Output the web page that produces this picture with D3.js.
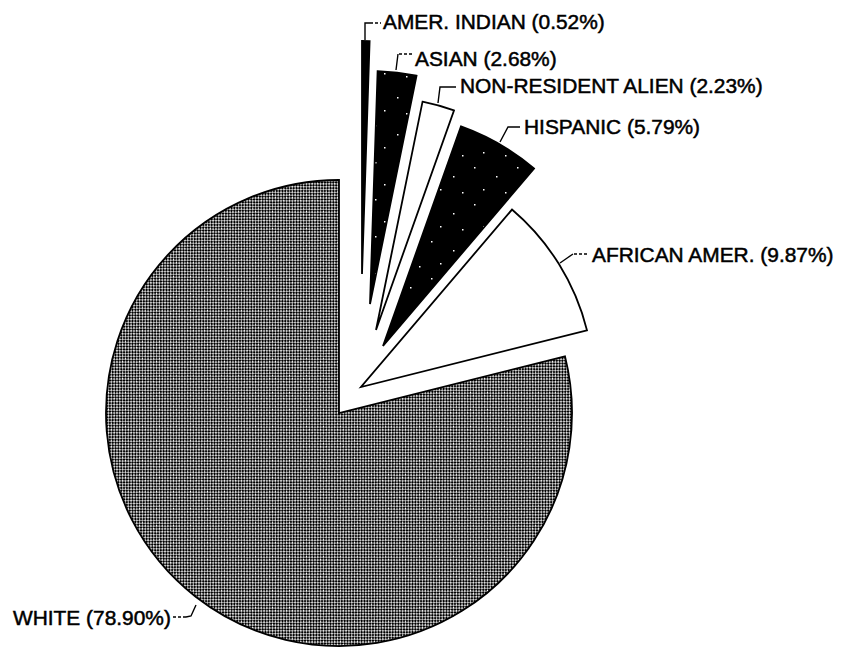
<!DOCTYPE html>
<html>
<head>
<meta charset="utf-8">
<script src="https://cdn.jsdelivr.net/npm/d3@7/dist/d3.min.js"></script>
<style>
  html, body { margin: 0; padding: 0; background: #fff; }
  svg { display: block; }
  text { font-family: "Liberation Sans", Arial, Helvetica, sans-serif; }
</style>
</head>
<body>
<svg id="chart" width="842" height="652"></svg>
<script>
// ---- data ----
const categories = ["AMER. INDIAN", "ASIAN", "NON-RESIDENT ALIEN", "HISPANIC", "AFRICAN AMER.", "WHITE"];
const values = [0.52, 2.68, 2.23, 5.79, 9.87, 78.90];
const valueLabels = ["0.52%", "2.68%", "2.23%", "5.79%", "9.87%", "78.90%"];

// ---- layout / style ----
const center = [339, 413];
const radius = 233;
const explode = [[23, -139], [31, -109], [37, -83], [44, -67], [22, -26], [0, 0]];
const fills = ["#000", "url(#speckle)", "#fff", "url(#speckle)", "#fff", "url(#halftone)"];
const labelPos = [[383, 29], [415, 66], [460, 93], [524, 134], [592, 262], [13, 625]];
const leaders = [
  {solid: [[365, 40], [365, 23], [370, 23]], dash: [[370, 23], [381, 23]]},
  {solid: [[396, 70], [398, 54]], dash: [[399, 54], [412, 54]]},
  {solid: [[438, 103], [440, 87], [456, 87]], dash: null},
  {solid: [[500, 142], [508, 127], [520, 127]], dash: null},
  {solid: [[560, 263], [573, 254]], dash: [[574, 254], [587, 254]]},
  {solid: [[196, 605], [191, 616], [186, 617]], dash: [[186, 617], [173, 617]]}
];

const svg = d3.select("#chart");
const defs = svg.append("defs");
const pat = defs.append("pattern")
  .attr("id", "halftone")
  .attr("patternUnits", "userSpaceOnUse")
  .attr("width", 4).attr("height", 4)
  .attr("patternTransform", "rotate(45)");
pat.append("rect").attr("width", 4).attr("height", 4).attr("fill", "#c4c4c4");
pat.append("rect").attr("x", 0).attr("y", 0).attr("width", 2).attr("height", 2).attr("fill", "#000");
pat.append("rect").attr("x", 2).attr("y", 2).attr("width", 2).attr("height", 2).attr("fill", "#000");
pat.append("rect").attr("x", 2).attr("y", 0).attr("width", 1).attr("height", 1).attr("fill", "#fff");

const sp = defs.append("pattern")
  .attr("id", "speckle")
  .attr("patternUnits", "userSpaceOnUse")
  .attr("width", 43).attr("height", 37);
sp.append("rect").attr("width", 43).attr("height", 37).attr("fill", "#000");
[[5, 6], [27, 15], [14, 28], [36, 31]].forEach(p =>
  sp.append("rect").attr("x", p[0]).attr("y", p[1]).attr("width", 1.5).attr("height", 1.5).attr("fill", "#fff"));

const pie = d3.pie().sort(null).value(d => d).startAngle(0).endAngle(2 * Math.PI);
const arcs = pie(values);
const arc = d3.arc().innerRadius(0).outerRadius(radius);

const g = svg.append("g").attr("transform", `translate(${center[0]},${center[1]})`);
g.selectAll("path.slice")
  .data(arcs)
  .join("path")
  .attr("class", "slice")
  .attr("transform", (d, i) => `translate(${explode[i][0]},${explode[i][1]})`)
  .attr("d", arc)
  .attr("fill", (d, i) => fills[i])
  .attr("stroke", "#000")
  .attr("stroke-width", 1.8)
  .attr("stroke-linejoin", "miter");

const line = d3.line();
leaders.forEach(l => {
  svg.append("path").attr("d", line(l.solid)).attr("fill", "none")
    .attr("stroke", "#000").attr("stroke-width", 1.4);
  if (l.dash) {
    svg.append("path").attr("d", line(l.dash)).attr("fill", "none")
      .attr("stroke", "#000").attr("stroke-width", 1.4).attr("stroke-dasharray", "3,2");
  }
});

svg.selectAll("text.lbl")
  .data(categories)
  .join("text")
  .attr("class", "lbl")
  .attr("x", (d, i) => labelPos[i][0])
  .attr("y", (d, i) => labelPos[i][1])
  .attr("font-size", 20.9)
  .attr("fill", "#000")
  .attr("stroke", "#000")
  .attr("stroke-width", 0.5)
  .text((d, i) => `${d} (${valueLabels[i]})`);
</script>
</body>
</html>
